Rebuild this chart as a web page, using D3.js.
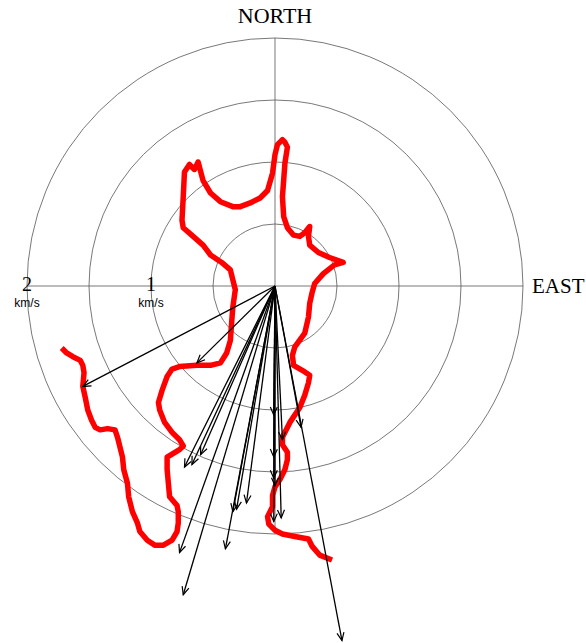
<!DOCTYPE html>
<html>
<head>
<meta charset="utf-8">
<script src="https://cdn.jsdelivr.net/npm/d3@7"></script>
<style>
  html, body { margin: 0; padding: 0; background: #fff; }
  svg { display: block; }
</style>
</head>
<body>
<svg id="chart" width="586" height="643"></svg>
<script>
// Velocity ring values (km/s) and the labelled ones
const rings = [0.5, 1, 1.5, 2];
const ringLabels = [2, 1];
const speedUnit = "km/s";

// Red trace: east and north velocity components (km/s), in drawing order
const traceEast = [
  0.46, 0.36, 0.30, 0.27, 0.16, 0.06, 0.00, -0.05, -0.06, -0.02,
  -0.02, 0.00, 0.04, 0.08, 0.10, 0.10, 0.06, 0.06, 0.12, 0.20,
  0.24, 0.27, 0.28, 0.22, 0.15, 0.14, 0.16, 0.24, 0.27, 0.28,
  0.30, 0.32, 0.39, 0.48, 0.55, 0.44, 0.35, 0.28, 0.27, 0.28,
  0.24, 0.20, 0.15, 0.10, 0.07, 0.06, 0.08, 0.10, 0.08, 0.06,
  0.02, 0.00, -0.02, -0.06, -0.12, -0.20, -0.28, -0.34, -0.44, -0.52,
  -0.58, -0.62, -0.65, -0.69, -0.73, -0.74, -0.75, -0.74, -0.66, -0.58,
  -0.52, -0.43, -0.36, -0.34, -0.32, -0.34, -0.35, -0.36, -0.39, -0.44,
  -0.52, -0.63, -0.77, -0.83, -0.87, -0.91, -0.94, -0.93, -0.89, -0.83,
  -0.77, -0.74, -0.77, -0.82, -0.87, -0.87, -0.86, -0.85, -0.79, -0.78,
  -0.78, -0.79, -0.83, -0.90, -0.97, -1.03, -1.09, -1.11, -1.15, -1.18,
  -1.19, -1.22, -1.23, -1.27, -1.29, -1.35, -1.41, -1.45, -1.48, -1.51,
  -1.53, -1.55, -1.54, -1.55, -1.57, -1.63, -1.68, -1.72
];
const traceNorth = [
  -2.21, -2.17, -2.10, -2.04, -2.02, -2.00, -1.97, -1.92, -1.86, -1.78,
  -1.69, -1.62, -1.56, -1.48, -1.40, -1.34, -1.28, -1.22, -1.10, -0.98,
  -0.88, -0.78, -0.72, -0.68, -0.64, -0.56, -0.49, -0.38, -0.25, -0.14,
  -0.05, 0.02, 0.10, 0.17, 0.19, 0.23, 0.27, 0.33, 0.40, 0.48,
  0.43, 0.40, 0.41, 0.47, 0.56, 0.72, 0.99, 1.12, 1.16, 1.18,
  1.14, 1.06, 0.91, 0.77, 0.71, 0.67, 0.64, 0.64, 0.68, 0.75,
  0.85, 1.00, 0.94, 0.98, 0.92, 0.72, 0.53, 0.47, 0.40, 0.33,
  0.25, 0.19, 0.13, 0.05, -0.03, -0.17, -0.30, -0.44, -0.54, -0.62,
  -0.64, -0.64, -0.65, -0.67, -0.73, -0.84, -0.94, -1.00, -1.10, -1.18,
  -1.24, -1.29, -1.32, -1.35, -1.38, -1.48, -1.59, -1.70, -1.77, -1.82,
  -1.91, -1.98, -2.05, -2.09, -2.09, -2.05, -1.98, -1.91, -1.82, -1.70,
  -1.59, -1.48, -1.38, -1.22, -1.16, -1.15, -1.16, -1.14, -1.08, -1.00,
  -0.90, -0.81, -0.70, -0.64, -0.60, -0.57, -0.54, -0.50
];

// Velocity vectors: east and north components (km/s)
const vectorEast = [
  -1.55, -0.63, -0.73, -0.67, -0.60, -0.77, -0.74, -0.40, -0.34, -0.31,
  -0.23, -0.01, -0.01, -0.01, 0.00, -0.01, 0.05, 0.06, 0.21, 0.54
];
const vectorNorth = [
  -0.81, -0.62, -1.46, -1.44, -1.36, -2.15, -2.49, -2.12, -1.82, -1.80,
  -1.75, -1.04, -1.38, -1.55, -1.61, -1.90, -1.87, -1.24, -1.14, -2.86
];

const svg = d3.select("#chart");
const cx = 275, cy = 286, outerR = 248;

// Cartesian scales sharing the same km/s -> pixel factor
const x = d3.scaleLinear().domain([-2, 2]).range([cx - outerR, cx + outerR]);
const y = d3.scaleLinear().domain([-2, 2]).range([cy + outerR, cy - outerR]);
const rScale = d3.scaleLinear().domain([0, 2]).range([0, outerR]);

const grid = svg.append("g").attr("fill", "none").attr("stroke", "#555").attr("stroke-width", 0.8);

grid.selectAll("circle")
  .data(rings)
  .join("circle")
  .attr("cx", x(0))
  .attr("cy", y(0))
  .attr("r", d => rScale(d));

// Axis cross
grid.append("line")
  .attr("x1", x(-2)).attr("x2", x(2))
  .attr("y1", y(0)).attr("y2", y(0));
grid.append("line")
  .attr("x1", x(0)).attr("x2", x(0))
  .attr("y1", y(2)).attr("y2", y(-2));

// Direction labels
const serif = "'Liberation Serif', 'Times New Roman', serif";
svg.append("text")
  .attr("x", x(0)).attr("y", y(2) - 15)
  .attr("text-anchor", "middle")
  .attr("font-family", serif).attr("font-size", 22)
  .text("NORTH");
svg.append("text")
  .attr("x", x(2) + 9).attr("y", y(0) + 7)
  .attr("font-family", serif).attr("font-size", 21)
  .text("EAST");

// Speed labels along the western axis
const speedLabels = svg.append("g");
speedLabels.selectAll("text.num")
  .data(ringLabels)
  .join("text")
  .attr("class", "num")
  .attr("x", d => x(-d))
  .attr("y", y(0) + 5)
  .attr("text-anchor", "middle")
  .attr("font-family", serif).attr("font-size", 20)
  .text(d => d);
speedLabels.selectAll("text.unit")
  .data(ringLabels)
  .join("text")
  .attr("class", "unit")
  .attr("x", d => x(-d))
  .attr("y", y(0) + 21)
  .attr("text-anchor", "middle")
  .attr("font-family", "'Liberation Sans', Arial, sans-serif").attr("font-size", 12)
  .text(speedUnit);

// Red trace
const trace = traceEast.map((e, i) => [e, traceNorth[i]]);
svg.append("path")
  .datum(trace)
  .attr("fill", "none")
  .attr("stroke", "#ff0000")
  .attr("stroke-width", 5.5)
  .attr("stroke-linejoin", "round")
  .attr("stroke-linecap", "butt")
  .attr("d", d3.line().x(d => x(d[0])).y(d => y(d[1])));

// Open arrowhead marker
svg.append("defs").append("marker")
  .attr("id", "head")
  .attr("markerUnits", "userSpaceOnUse")
  .attr("viewBox", "-10 -5 12 10")
  .attr("refX", 0).attr("refY", 0)
  .attr("markerWidth", 12).attr("markerHeight", 10)
  .attr("orient", "auto")
  .append("path")
  .attr("d", "M-8,-3.5 L0,0 L-8,3.5")
  .attr("fill", "none")
  .attr("stroke", "#000")
  .attr("stroke-width", 1.2);

const vectors = vectorEast.map((e, i) => [e, vectorNorth[i]]);
svg.append("g")
  .selectAll("line")
  .data(vectors)
  .join("line")
  .attr("x1", x(0)).attr("y1", y(0))
  .attr("x2", d => x(d[0])).attr("y2", d => y(d[1]))
  .attr("stroke", "#000")
  .attr("stroke-width", 1.3)
  .attr("marker-end", "url(#head)");
</script>
</body>
</html>
